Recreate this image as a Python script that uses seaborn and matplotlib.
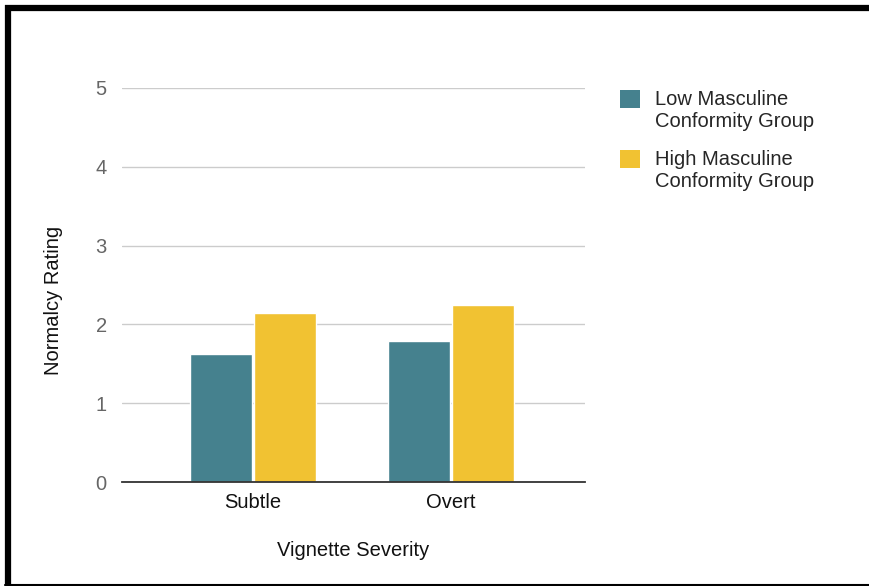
import matplotlib
matplotlib.use("Agg")
import matplotlib.pyplot as plt
from matplotlib.lines import Line2D
import pandas as pd
import seaborn as sns

# Mean normalcy ratings by vignette severity and masculine conformity group
severity = ["Subtle", "Overt"]
groups = ["Low Masculine\nConformity Group", "High Masculine\nConformity Group"]
low_conformity = [1.63, 1.79]
high_conformity = [2.14, 2.25]
y_ticks = [0, 1, 2, 3, 4, 5]

colors = ["#45818e", "#f1c232"]

df = pd.DataFrame({
    "Vignette Severity": severity * 2,
    "Group": [groups[0]] * len(severity) + [groups[1]] * len(severity),
    "Normalcy Rating": low_conformity + high_conformity,
})

sns.set_theme(style="white")
plt.rcParams["font.family"] = ["Liberation Sans", "DejaVu Sans"]

fig = plt.figure(figsize=(8.7, 5.86), dpi=100)
ax = fig.add_axes([122 / 870, 1 - 482 / 586, (585 - 122) / 870, (482 - 88) / 586])

sns.barplot(
    data=df, x="Vignette Severity", y="Normalcy Rating", hue="Group",
    order=severity, hue_order=groups, palette=colors,
    width=0.65, gap=0.03, saturation=1, errorbar=None, ax=ax, zorder=3,
)

ax.set_xlim(-0.662, 1.677)
ax.set_ylim(0, 5)
ax.set_yticks(y_ticks)
ax.yaxis.grid(True, color="#cccccc", linewidth=1, zorder=0)
ax.set_axisbelow(True)
for side in ["top", "right", "left"]:
    ax.spines[side].set_visible(False)
ax.spines["bottom"].set_color("#333333")
ax.spines["bottom"].set_linewidth(1.3)
ax.spines["bottom"].set_zorder(4)

ax.tick_params(axis="y", length=0, pad=11, labelsize=14.5, labelcolor="#666666")
ax.tick_params(axis="x", length=0, pad=8, labelsize=14.5, labelcolor="#111111")
ax.set_xlabel("Vignette Severity", fontsize=14.5, color="#111111", labelpad=21)
ax.set_ylabel("Normalcy Rating", fontsize=14.5, color="#111111")
ax.yaxis.set_label_coords(-0.128, 0.462)

ax.get_legend().remove()
handles = [plt.Rectangle((0, 0), 1, 1, facecolor=c, edgecolor="none") for c in colors]
leg = fig.legend(
    handles, groups, loc="upper left", bbox_to_anchor=(606 / 870, 1 - 76 / 586),
    frameon=False, fontsize=14.5, handlelength=1.0, handleheight=1.0,
    handletextpad=0.75, labelspacing=0.92, borderpad=0.2,
)
# Align each swatch with the first line of its two-line label
for column in leg._legend_handle_box.get_children():
    for row in column.get_children():
        row.align = "top"

# Frame around the figure: heavy top and left edges, thin bottom edge
fig.add_artist(Line2D([5 / 870, 1], [1 - 8 / 586, 1 - 8 / 586],
                      transform=fig.transFigure, color="black", linewidth=4.5,
                      solid_capstyle="butt"))
fig.add_artist(Line2D([8 / 870, 8 / 870], [0, 1 - 5 / 586],
                      transform=fig.transFigure, color="black", linewidth=4.5,
                      solid_capstyle="butt"))
fig.add_artist(Line2D([5 / 870, 1], [1.5 / 586, 1.5 / 586],
                      transform=fig.transFigure, color="black", linewidth=1.5))

fig.savefig("out.png", dpi=100, facecolor="white")
